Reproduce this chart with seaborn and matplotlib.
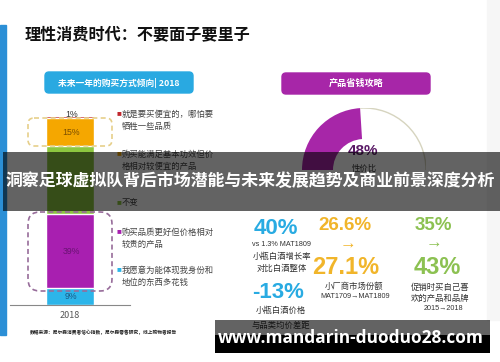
import numpy as np
import pandas as pd
import matplotlib
matplotlib.use("Agg")
import matplotlib.pyplot as plt
from matplotlib.patches import FancyBboxPatch, Rectangle, Arc
import seaborn as sns

# ---- data ----
title = "理性消费时代：不要面子要里子"
left_header = "未来一年的购买方式倾向| 2018"
right_header = "产品省钱攻略"
year = "2018"
segments = ["就是要买便宜的，哪怕要牺牲一些品质",
            "购买能满足基本功效但价格相对较便宜的产品",
            "不变",
            "购买品质更好但价格相对较贵的产品",
            "我愿意为能体现我身份和地位的东西多花钱"]
shares = [1, 15, 36, 39, 9]
seg_colors = ["#c1272d", "#f5a700", "#8dc63f", "#a81fb0", "#2cb5e9"]
label_colors = ["#333333", "#7a4e00", None, "#6a1273", "#1d5a85"]
source = "数据来源：尼尔森消费者信心指数，尼尔森零售研究，线上购物者报告"

gauge_value = 48
gauge_label = "性价比"

col1_big = ["40%", "-13%"]
col1_notes = [["vs 1.3% MAT1809", "小瓶白酒增长率", "对比白酒整体"],
              ["小瓶白酒价格", "与品类均价差距"]]
col2_values = ["26.6%", "27.1%"]
col2_notes = ["小厂商市场份额", "MAT1709→MAT1809"]
col3_values = ["35%", "43%"]
col3_notes = ["促销时买自己喜", "欢的产品和品牌", "2015→2018"]

banner = "洞察足球虚拟队背后市场潜能与未来发展趋势及商业前景深度分析"
watermark = "www.mandarin-duoduo28.com"

W, H = 500, 362
cyan = "#29abe2"
yellow = "#f1b52a"
green = "#8cc152"
purple = "#a726a8"
latin = ["Liberation Sans", "Noto Sans CJK SC"]

sns.set_style("white")
plt.rcParams["font.family"] = ["Noto Sans CJK SC", "DejaVu Sans"]

fig = plt.figure(figsize=(W / 100, H / 100), dpi=100)
fig.patch.set_facecolor("white")


def px_axes(x0, y0, x1, y1, z):
    ax = fig.add_axes([x0 / W, 1 - y1 / H, (x1 - x0) / W, (y1 - y0) / H], zorder=z)
    ax.set_facecolor("none")
    return ax


# background layer in pixel coordinates
bg = px_axes(0, 0, W, H, 0)
bg.set_xlim(0, W)
bg.set_ylim(H, 0)
bg.axis("off")

bg.add_patch(Rectangle((0, 25), 6, 310, color="#2b8fd6"))
bg.add_patch(Rectangle((487, 0), 13, 320, color="#f6f6f6"))
bg.text(25, 34, title, fontsize=11.6, fontweight="bold", color="#111111", va="center")

bg.add_patch(FancyBboxPatch((45, 72), 148, 21, boxstyle="round,pad=0,rounding_size=4",
                            color="#29a9e1"))
bg.text(119, 82.5, left_header, fontsize=6.3, color="white", ha="center", va="center",
        fontweight="bold")
bg.add_patch(FancyBboxPatch((282, 73), 148, 21, boxstyle="round,pad=0,rounding_size=4",
                            color=purple))
bg.text(356, 83.5, right_header, fontsize=6.6, color="white", ha="center", va="center",
        fontweight="bold")

# legend next to the bar
legend_y = [114, 154, 203, 232, 270]
for name, c, y0 in zip(segments, seg_colors, legend_y):
    lines = [name[i:i + 11] for i in range(0, len(name), 11)]
    bg.text(117, y0, "■", fontsize=3.5, color=c, va="center")
    for k, line in enumerate(lines):
        bg.text(122, y0 + 12 * k, line, fontsize=6, color="#444444", va="center")

bg.text(30, 332, source, fontsize=3.4, color="#222222", va="center", fontweight="bold")

# stats block
bg.text(276, 228, col1_big[0], family=latin, fontsize=16, fontweight="bold",
        color=cyan, ha="center", va="center")
for k, line in enumerate(col1_notes[0]):
    bg.text(282, 245 + 11.5 * k, line, fontsize=6 if k else 5.2, color="#333333",
            ha="center", va="center", family=latin if k == 0 else None)
bg.text(278, 293, col1_big[1], family=latin, fontsize=16, fontweight="bold",
        color=cyan, ha="center", va="center")
for k, line in enumerate(col1_notes[1]):
    bg.text(281, 310 + 15 * k, line, fontsize=6, color="#333333", ha="center", va="center")

bg.text(345, 226, col2_values[0], family=latin, fontsize=13.5, fontweight="bold",
        color=yellow, ha="center", va="center")
bg.text(348, 244, "→", family=latin, fontsize=12, fontweight="bold", color=yellow,
        ha="center", va="center")
bg.text(346, 268, col2_values[1], family=latin, fontsize=17, fontweight="bold",
        color=yellow, ha="center", va="center")
bg.text(354, 286, col2_notes[0], fontsize=6, color="#333333", ha="center", va="center")
bg.text(355, 297, col2_notes[1], family=latin, fontsize=5.2, color="#333333",
        ha="center", va="center")

bg.text(433, 225, col3_values[0], family=latin, fontsize=13.5, fontweight="bold",
        color=green, ha="center", va="center")
bg.text(434, 243, "→", family=latin, fontsize=12, fontweight="bold", color=green,
        ha="center", va="center")
bg.text(437, 268, col3_values[1], family=latin, fontsize=17, fontweight="bold",
        color=green, ha="center", va="center")
for k, line in enumerate(col3_notes):
    bg.text(440 if k < 2 else 444, 287 + 11 * k, line, fontsize=6 if k < 2 else 5.2,
            color="#333333", ha="center", va="center", family=latin if k == 2 else None)

# ---- stacked bar ----
bar_ax = px_axes(10, 116, 130, 305, 1)
df = pd.DataFrame({"year": year, "share": shares, "segment": segments, "color": seg_colors})
df["top"] = df["share"][::-1].cumsum()[::-1]
for _, row in df.sort_values("top", ascending=False).iterrows():
    sns.barplot(data=row.to_frame().T, x="year", y="top", color=row["color"],
                saturation=1, width=0.4, ax=bar_ax)
bar_ax.set_xlim(-0.5, 0.5)
bar_ax.set_ylim(0, 100)
bar_ax.set_xlabel("")
bar_ax.set_ylabel("")
bar_ax.set_yticks([])
sns.despine(ax=bar_ax, left=True)
bar_ax.spines["bottom"].set_color("#888888")
bar_ax.spines["bottom"].set_linewidth(0.8)
bar_ax.tick_params(axis="x", length=0, pad=4, labelsize=6.5, labelcolor="#555555")
for (_, row), tc in zip(df.iterrows(), label_colors):
    if tc is None:
        continue
    y = row["top"] - row["share"] / 2 if row["share"] > 2 else row["top"] + 1
    bar_ax.text(0.01, y, f"{row['share']}%", family=latin, fontsize=6.3, color=tc,
                ha="center", va="center", clip_on=False)

# ---- half gauge ----
g_ax = px_axes(302, 108, 426, 232, 1)
g_ax.pie([gauge_value, 100 - gauge_value, 100], colors=[purple, "none", "none"],
         startangle=180, counterclock=False, radius=1,
         wedgeprops=dict(width=0.5, edgecolor="none"))
g_ax.add_patch(Arc((0, 0), 2, 2, theta1=0, theta2=180 - 1.8 * gauge_value,
                   color="#d6d4bf", lw=1))
g_ax.set_xlim(-1, 1)
g_ax.set_ylim(-1, 1)
g_ax.set_aspect("equal")
g_ax.axis("off")
bg.text(363, 151, f"{gauge_value}%", family=latin, fontsize=11, fontweight="bold",
        color="#5a1a66", ha="center", va="center", zorder=3)
bg.text(364, 168, gauge_label, fontsize=6, color="#333333", ha="center", va="center")

# ---- front layer: dashed boxes, banner, watermark ----
fg = px_axes(0, 0, W, H, 5)
fg.set_xlim(0, W)
fg.set_ylim(H, 0)
fg.axis("off")
fg.add_patch(FancyBboxPatch((28, 118), 84, 28, boxstyle="round,pad=0,rounding_size=6",
                            fill=False, ec="#e6cf8a", lw=1.2, ls=(0, (3, 2))))
fg.add_patch(FancyBboxPatch((28, 212), 84, 79, boxstyle="round,pad=0,rounding_size=12",
                            fill=False, ec="#976c9a", lw=1.2, ls=(0, (3, 2))))
fg.add_patch(Rectangle((3, 152), W - 3, 59, color="black", alpha=0.61, lw=0))
fg.text(250, 181, banner, fontsize=12.2, fontweight="bold", color="white",
        ha="center", va="center")
fg.add_patch(Rectangle((215, 320), 275, 15, color="black", alpha=0.61, lw=0))
fg.add_patch(Rectangle((215, 335), 275, 18, color="black", lw=0))
fg.text(351, 338, watermark, family=["Open Sans", "DejaVu Sans"], fontsize=12.4,
        fontweight="bold", color="white", ha="center", va="center")

fig.savefig("out.png", dpi=100, facecolor="white")
